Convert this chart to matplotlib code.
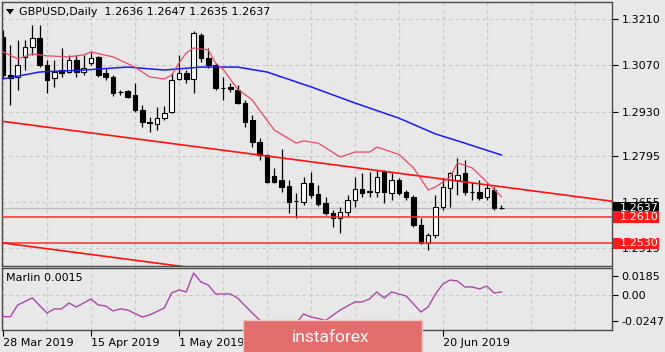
import matplotlib
matplotlib.use('Agg')
import matplotlib.pyplot as plt
import matplotlib.transforms as mtransforms
from matplotlib.patches import Rectangle, Polygon

# ---------------- data ----------------
symbol_title = 'GBPUSD,Daily  1.2636 1.2647 1.2635 1.2637'

opens = [1.3156, 1.3041, 1.3035, 1.3096, 1.3126, 1.3153, 1.3071, 1.3032, 1.3056, 1.3050,
         1.3086, 1.3050, 1.3077, 1.3096, 1.3047, 1.3035, 1.2990, 1.2992, 1.2980, 1.2935,
         1.2898, 1.2892, 1.2910, 1.2929, 1.3029, 1.3047, 1.3029, 1.3162, 1.3092, 1.3071,
         1.3002, 1.3005, 1.2995, 1.2956, 1.2904, 1.2838, 1.2798, 1.2734, 1.2722, 1.2704,
         1.2659, 1.2655, 1.2713, 1.2680, 1.2652, 1.2622, 1.2607, 1.2625, 1.2661, 1.2695,
         1.2686, 1.2686, 1.2746, 1.2683, 1.2722, 1.2686, 1.2671, 1.2586, 1.2531, 1.2555,
         1.2640, 1.2698, 1.2722, 1.2743, 1.2687, 1.2686, 1.2671, 1.2692, 1.2636]
highs = [1.3178, 1.3132, 1.3147, 1.3147, 1.3193, 1.3193, 1.3086, 1.3086, 1.3123, 1.3102,
         1.3102, 1.3102, 1.3111, 1.3098, 1.3062, 1.3041, 1.2995, 1.2995, 1.3017, 1.2950,
         1.2913, 1.2944, 1.2947, 1.3047, 1.3102, 1.3056, 1.3174, 1.3168, 1.3123, 1.3077,
         1.3035, 1.3017, 1.3011, 1.2965, 1.2919, 1.2850, 1.2800, 1.2759, 1.2816, 1.2722,
         1.2683, 1.2731, 1.2746, 1.2707, 1.2671, 1.2631, 1.2640, 1.2677, 1.2731, 1.2743,
         1.2746, 1.2753, 1.2753, 1.2743, 1.2728, 1.2692, 1.2677, 1.2607, 1.2561, 1.2677,
         1.2728, 1.2746, 1.2789, 1.2783, 1.2716, 1.2722, 1.2713, 1.2701, 1.2647]
lows = [1.3032, 1.2950, 1.2995, 1.3056, 1.3102, 1.3065, 1.2986, 1.3005, 1.3035, 1.3047,
        1.3035, 1.3041, 1.3071, 1.3035, 1.3026, 1.2977, 1.2980, 1.2971, 1.2929, 1.2883,
        1.2868, 1.2874, 1.2904, 1.2926, 1.3026, 1.3017, 1.2986, 1.3080, 1.3062, 1.2995,
        1.2965, 1.2989, 1.2953, 1.2883, 1.2822, 1.2783, 1.2713, 1.2713, 1.2686, 1.2622,
        1.2607, 1.2646, 1.2668, 1.2643, 1.2616, 1.2579, 1.2561, 1.2610, 1.2640, 1.2671,
        1.2671, 1.2671, 1.2652, 1.2661, 1.2677, 1.2661, 1.2579, 1.2529, 1.2510, 1.2546,
        1.2631, 1.2640, 1.2677, 1.2677, 1.2661, 1.2661, 1.2661, 1.2631, 1.2635]
closes = [1.3041, 1.3032, 1.3071, 1.3126, 1.3153, 1.3071, 1.3026, 1.3050, 1.3047, 1.3086,
          1.3050, 1.3062, 1.3093, 1.3041, 1.3035, 1.2986, 1.2989, 1.2974, 1.2935, 1.2898,
          1.2895, 1.2910, 1.2926, 1.3026, 1.3047, 1.3029, 1.3168, 1.3092, 1.3071, 1.3001,
          1.3000, 1.2998, 1.2956, 1.2898, 1.2838, 1.2798, 1.2716, 1.2716, 1.2701, 1.2655,
          1.2658, 1.2713, 1.2677, 1.2649, 1.2622, 1.2607, 1.2625, 1.2661, 1.2695, 1.2683,
          1.2689, 1.2731, 1.2686, 1.2722, 1.2683, 1.2671, 1.2586, 1.2531, 1.2555, 1.2640,
          1.2701, 1.2743, 1.2737, 1.2686, 1.2685, 1.2668, 1.2698, 1.2637, 1.2637]

# moving averages (bar index, price)
ma_slow_bars = [0, 5, 11, 17, 22, 27, 32, 36, 42, 48, 54, 59, 63, 68]
ma_slow_vals = [1.3029, 1.3050, 1.3056, 1.3065, 1.3056, 1.3065, 1.3065, 1.3050, 1.3005,
                1.2956, 1.2910, 1.2862, 1.2834, 1.2798]
ma_fast_bars = [0, 2, 4, 6, 9, 11, 12, 15, 18, 20, 22, 23, 24, 25, 26, 28, 29, 30, 32, 34,
                35, 36, 37, 40, 41, 43, 46, 48, 50, 51, 54, 56, 58, 59, 61, 62, 64, 66, 68]
ma_fast_vals = [1.3111, 1.3090, 1.3105, 1.3099, 1.3096, 1.3102, 1.3111, 1.3096, 1.3065,
                1.3035, 1.3029, 1.3040, 1.3077, 1.3108, 1.3123, 1.3117, 1.3077, 1.3059,
                1.2998, 1.2965, 1.2934, 1.2904, 1.2874, 1.2834, 1.2841, 1.2834, 1.2792,
                1.2807, 1.2807, 1.2822, 1.2800, 1.2759, 1.2692, 1.2701, 1.2731, 1.2774,
                1.2759, 1.2716, 1.2671]

# channel trend lines (bar index, price)
trend_upper_bars = [-1, 84]
trend_upper_vals = [1.2903, 1.2655]
trend_lower_bars = [-1, 84]
trend_lower_vals = [1.2534, 1.2286]

levels = [1.2610, 1.2530]
bid_price = 1.2637

price_ticks = [1.3210, 1.3070, 1.2930, 1.2795, 1.2655, 1.2515]

# Marlin oscillator (bar index, value)
marlin_bars = [0, 1, 2, 4, 6, 7, 8, 9, 10, 12, 13, 14, 15, 16, 17, 19, 20, 22, 23, 24, 25,
               26, 27, 28, 29, 31, 32, 34, 35, 36, 38, 40, 41, 42, 43, 44, 46, 48, 49, 50,
               51, 52, 53, 54, 55, 57, 58, 59, 60, 61, 62, 63, 64, 65, 66, 67, 68]
marlin_vals = [-0.0208, -0.0208, -0.0096, -0.0029, -0.0173, -0.0134, -0.0134, -0.0077,
               -0.0115, -0.0038, -0.0096, -0.0105, -0.0153, -0.0134, -0.0144, -0.0211,
               -0.0192, -0.0125, 0.0019, 0.0048, 0.0029, 0.0211, 0.0125, 0.0096, 0.0010,
               0.0010, -0.0029, -0.0173, -0.0240, -0.0280, -0.0310, -0.0270, -0.0182,
               -0.0211, -0.0225, -0.0245, -0.0144, -0.0067, -0.0067, -0.0038, 0.0029,
               -0.0029, 0.0029, 0.0010, -0.0010, -0.0163, -0.0115, 0.0010, 0.0105, 0.0144,
               0.0134, 0.0077, 0.0077, 0.0058, 0.0086, 0.0019, 0.0029]
marlin_ticks = [0.0185, 0.0, -0.0247]
marlin_tick_labels = ['0.0185', '0.00', '-0.0247']
marlin_label = 'Marlin 0.0015'

date_label_bars = [0, 12, 24, 60]
date_labels = ['28 Mar 2019', '15 Apr 2019', '1 May 2019', '20 Jun 2019']
logo_text = 'instaforex'

# ---------------- layout ----------------
W, H = 665, 352
fig = plt.figure(figsize=(W / 100, H / 100), dpi=100)
bg = '#E8E8E8'
fig.patch.set_facecolor(bg)


def fx(px):
    return px / W


def fy(py):
    return 1 - py / H


L, R = 2, 612
ax = fig.add_axes([fx(L), fy(265.5), (R - L) / W, (265.5 - 2) / H])
axm = fig.add_axes([fx(L), fy(330), (R - L) / W, (330 - 268) / H])

xlim = (-0.136, 83.08)
grid_col = '#C6C6C6'
spine_col = '#4A4A4A'

for a in (ax, axm):
    a.set_facecolor(bg)
    a.set_xlim(*xlim)
    for s in a.spines.values():
        s.set_color(spine_col)
        s.set_linewidth(1.0)
    a.yaxis.tick_right()
    a.tick_params(axis='y', direction='out', length=4, width=0.8, pad=3,
                  labelsize=8, colors='black', left=False, labelleft=False)
    for b in range(0, 84, 6):
        a.axvline(b, color=grid_col, lw=0.8, dashes=(3, 3), zorder=0.5)

# ---- main price panel ----
ax.set_ylim(1.24626, 1.32625)
ax.set_yticks(price_ticks)
ax.set_yticklabels(['%.4f' % t for t in price_ticks])
ax.tick_params(axis='x', bottom=False, labelbottom=False)
for t in price_ticks:
    ax.axhline(t, color=grid_col, lw=0.8, dashes=(3, 3), zorder=0.5)

# bid line
ax.axhline(bid_price, color='#BDBDBD', lw=0.9, zorder=0.8)
# horizontal levels
for lv in levels:
    ax.axhline(lv, color='#FF2A2A', lw=1.1, zorder=3)
# trend lines
ax.plot(trend_upper_bars, trend_upper_vals, color='#FF1010', lw=1.2, zorder=3)
ax.plot(trend_lower_bars, trend_lower_vals, color='#FF1010', lw=1.2, zorder=3)

# candles
bw = 0.62
for i, (o, h, l, c) in enumerate(zip(opens, highs, lows, closes)):
    ax.vlines(i, l, h, color='black', lw=0.9, zorder=2)
    bottom = min(o, c)
    height = max(abs(c - o), 0.00002)
    fc = 'white' if c > o else 'black'
    ax.bar(i, height, bw, bottom=bottom, color=fc, edgecolor='black', lw=0.8, zorder=2.2)

# moving averages
ax.plot(ma_slow_bars, ma_slow_vals, color='#1A1AFF', lw=1.1, zorder=3.2)
ax.plot(ma_fast_bars, ma_fast_vals, color='#E84A66', lw=0.9, zorder=3.2)

# price labels on the right axis
btr = mtransforms.blended_transform_factory(ax.transAxes, ax.transData)
box_w = 46.5 / (R - L)
box_h = 11.5 / 3294
text_x = (620 - L) / (R - L)
for price, col in [(bid_price, 'black'), (levels[0], '#FF1A1A'), (levels[1], '#FF1A1A')]:
    ax.add_patch(Rectangle((1.0015, price - box_h / 2), box_w, box_h, transform=btr,
                           facecolor=col, edgecolor='none', clip_on=False, zorder=6))
    ax.text(text_x, price, '%.4f' % price, transform=btr, color='white', fontsize=8,
            ha='left', va='center', zorder=7, clip_on=False)

# ---- Marlin panel ----
axm.set_ylim(-0.0336, 0.0259)
axm.set_yticks(marlin_ticks)
axm.set_yticklabels(marlin_tick_labels)
axm.axhline(0.0, color=grid_col, lw=0.8, dashes=(3, 3), zorder=0.5)
axm.plot(marlin_bars, marlin_vals, color='#A848AC', lw=1.0, zorder=3)
axm.set_xticks(date_label_bars)
axm.set_xticklabels(date_labels)
axm.tick_params(axis='x', direction='out', length=4, width=0.8, pad=1.5,
                labelsize=8, colors='black')
for lab in axm.get_xticklabels():
    lab.set_ha('left')

# ---- titles ----
fig.patches.append(Polygon([[fx(6), fy(9)], [fx(14), fy(9)], [fx(10), fy(14.5)]],
                           closed=True, transform=fig.transFigure, facecolor='black',
                           edgecolor='none', zorder=10))
fig.text(fx(19), fy(12), symbol_title, fontsize=8, va='center', ha='left', color='black',
         zorder=10)
fig.text(fx(6), fy(278), marlin_label, fontsize=8, va='center', ha='left', color='black',
         zorder=10)

# ---- logo ----
fig.patches.append(Rectangle((fx(243), fy(354)), (422 - 243) / W, (354 - 320) / H,
                             transform=fig.transFigure, facecolor='#E36C6C',
                             edgecolor='#F4C4C4', lw=1.0, zorder=20))
fig.text(fx(331), fy(338), logo_text, fontsize=12.5, family='Roboto', color='white',
         ha='center', va='center', zorder=21)

fig.savefig('out.png', dpi=100, facecolor=bg)
